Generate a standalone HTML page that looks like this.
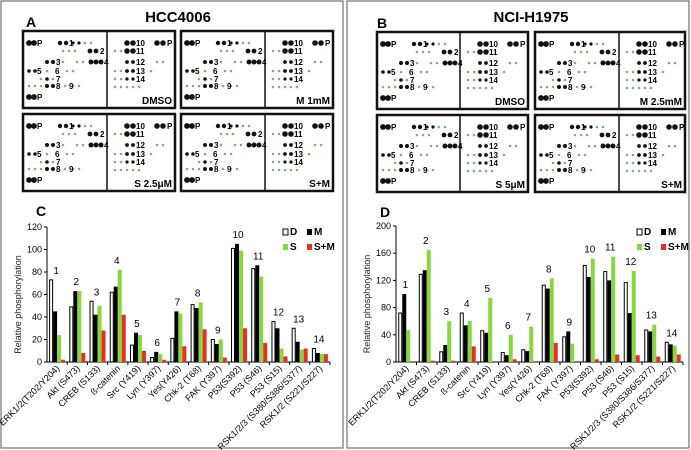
<!DOCTYPE html>
<html><head><meta charset="utf-8"><style>
html,body{margin:0;padding:0;background:#fff}
svg{display:block;font-family:"Liberation Sans",Arial,sans-serif}
</style></head><body>
<svg id="fig" width="691" height="450" viewBox="0 0 691 450">
<rect x="1" y="1" width="342" height="447" fill="none" stroke="#555" stroke-width="1"/>
<rect x="347" y="1" width="342" height="447" fill="none" stroke="#555" stroke-width="1"/>
<text x="178" y="22" font-size="15" font-weight="bold" text-anchor="middle">HCC4006</text>
<text x="26" y="27" font-size="14" font-weight="bold">A</text>
<text x="531" y="22" font-size="15" font-weight="bold" text-anchor="middle">NCI-H1975</text>
<text x="377" y="28" font-size="14" font-weight="bold">B</text>
<text x="36" y="216" font-size="14" font-weight="bold">C</text>
<text x="380" y="217" font-size="14" font-weight="bold">D</text>
<g id="blots"></g>
<g id="chartC"></g>
<g id="chartD"></g>
</svg>
<script>
const NS="http://www.w3.org/2000/svg";
function mk(tag,attrs,parent,txt){const e=document.createElementNS(NS,tag);for(const k in attrs)e.setAttribute(k,attrs[k]);if(txt!==undefined)e.textContent=txt;parent.appendChild(e);return e;}

// ---------- blot arrays ----------
const blotBoxes=[[23,31,107,175,"DMSO"],[181,31,265,333,"M 1mM"],[23,114,107,175,"S 2.5μM"],[181,114,265,333,"S+M"],
[377,32,460,528,"DMSO"],[535,32,619,685,"M 2.5mM"],[377,115,460,528,"S 5μM"],[535,115,619,685,"S+M"]];
const blotG=document.getElementById('blots');
const leftDots=[[6,12,2.9],[11,12,2.9],[37,12,2.2],[43,12,2.2],[50,12,1.6],[56,12,1.6],[62,12,1.3],[68,12,1.3],
[67,20,2.4],[73,20,2.4],[40,20,1.3],[46,20,1.3],[52,20,1.3],
[24,31,2],[30,31,2],[40,31,1.3],[54,31,1.3],[60,31,1.3],[68,31,2.5],[73,31,2.5],[78,31,2.5],
[6,40,1.8],[12,40,1.8],[24,40,1.3],[44,40,1.3],[50,40,1.3],
[24,48,1.8],[30,48,1.3],[18,48,1.3],
[24,55,2],[30,55,2],[18,55,1.3],[42,55,1.3],[50,55,1.3],[56,55,1.3],[6,55,1.3],[12,55,1.3],
[6,66,2.9],[11,66,2.9]];
const leftLabels=[["P",14,15],["1",46,15],["2",77,23],["3",33,34],["4",81,34],["5",14,43],["6",32,43],["7",33,51],["8",33,58],["9",46,58],["P",14,69]];
const rightDots=[[20,12,2.8],[26,12,2.8],[50,12,2.8],[56,12,2.8],[20,20,2.8],[26,20,2.8],[8,20,1.3],[14,20,1.3],
[20,31,1.9],[26,31,1.9],[50,31,1.3],[56,31,1.3],[8,40,1.3],[14,40,1.3],[20,40,1.9],[26,40,1.9],[44,40,1.3],
[8,48,1.3],[14,48,1.3],[20,48,1.6],[26,48,1.6],[8,56,1.3],[14,56,1.3],[20,56,1.3],[26,56,1.3],[32,56,1.3]];
const rightLabels=[["10",29,15],["11",29,23],["12",29,34],["13",29,43],["14",29,51],["P",60,15]];
blotBoxes.forEach((b,i)=>{
  const [x0,y0,xd,x1,cond]=b;
  const g=mk('g',{},blotG);
  
  
  mk('rect',{x:x0,y:y0,width:x1-x0,height:77,fill:'#fff',stroke:'#111','stroke-width':2.5},g);
  mk('line',{x1:xd,y1:y0,x2:xd,y2:y0+77,stroke:'#111','stroke-width':1.5},g);
  leftDots.forEach(d=>mk('circle',{cx:x0+d[0],cy:y0+d[1],r:d[2],fill:d[2]>1.5?'#111':'#8a8'},g));
  leftLabels.forEach(l=>mk('text',{x:x0+l[1],y:y0+l[2],'font-size':8,'font-weight':'bold'},g,l[0]));
  rightDots.forEach(d=>mk('circle',{cx:xd+d[0],cy:y0+d[1],r:d[2],fill:d[2]>1.5?'#111':'#8a8'},g));
  rightLabels.forEach(l=>mk('text',{x:xd+l[1],y:y0+l[2],'font-size':8,'font-weight':'bold'},g,l[0]));
  const t=mk('text',{x:x1-3,y:y0+73,'font-size':10,'font-weight':'bold','text-anchor':'end'},g,cond);
  
  
});

// ---------- chart data ----------
const categories=["ERK1/2(T202/Y204)","Akt (S473)","CREB (S133)","ß-catenin","Src (Y419)","Lyn (Y397)","Yes(Y426)","Chk-2 (T68)","FAK (Y397)","P53(S392)","P53 (S46)","P53 (S15)","RSK1/2/3 (S380/S386/S377)","RSK1/2 (S221/S227)"];
const seriesNames=["D","M","S","S+M"];
const cD=[73,49,54,62,15,4,21,51,20,101,83,36,30,12];
const cM=[45,63,42,67,26,9,45,48,16,105,86,30,18,8];
const cS=[24,63,50,82,24,7,43,53,20,99,76,12,11,7];
const cSM=[2,8,28,42,10,2,14,29,4,30,17,5,12,7];
const cTicks=[0,20,40,60,80,100,120];
const dD=[72,129,15,72,46,14,18,113,37,142,133,117,47,29];
const dM=[100,135,25,54,43,10,16,108,45,125,120,72,45,26];
const dS=[47,165,60,60,94,40,52,123,27,152,155,134,55,24];
const dSM=[0,2,2,23,0,4,0,28,0,4,11,10,8,11];
const dTicks=[0,40,80,120,160,200];

const fills=["#fff","#000","#86d840","#e8301e"];
function drawChart(gid,x0,x1,y0,y1,ymax,ticks,series,prefix,legX){
  const g=document.getElementById(gid);
  const ys=v=>y0-(v/ymax)*(y0-y1);
  const slot=(x1-x0)/categories.length;
  const xs=i=>x0+i*slot;
  mk('line',{x1:x0,y1:y1,x2:x0,y2:y0,stroke:'#000'},g);
  mk('line',{x1:x0,y1:y0,x2:x1,y2:y0,stroke:'#000'},g);
  ticks.forEach(t=>{
    mk('line',{x1:x0-3,y1:ys(t),x2:x0,y2:ys(t),stroke:'#000'},g);
    const tl=mk('text',{x:x0-5,y:ys(t)+3,'font-size':9,'text-anchor':'end'},g,t);
    
    
  });
  const yl=mk('text',{transform:`translate(${x0-26},${(y0+y1)/2+10}) rotate(-90)`,'font-size':9,'text-anchor':'middle',fill:'#222'},g,"Relative phosphorylation");
  
  
  categories.forEach((c,i)=>{
    mk('line',{x1:xs(i+1),y1:y0,x2:xs(i+1),y2:y0+3,stroke:'#000'},g);
    const bw=4, start=xs(i)+(slot-4*bw)/2;
    let mx=0;
    series.forEach((s,k)=>{
      const v=s[i]; mx=Math.max(mx,v);
      const r=mk('rect',{x:start+k*bw+(k==0?0.5:0),y:ys(v),width:k==0?bw-1:bw,height:Math.max(0,y0-ys(v)),fill:fills[k],stroke:k==0?'#000':'none','stroke-width':1},g);
      
      
    });
    const nl=mk('text',{x:xs(i)+slot/2-1,y:ys(mx)-6,'font-size':10,'text-anchor':'middle'},g,i+1);
    
    
    const cl=mk('text',{transform:`translate(${xs(i)+slot/2+3},${y0+7}) rotate(-45)`,'font-size':9,'text-anchor':'end'},g,c);
    
    
  });
  const lp=[[legX,235],[legX+24,235],[legX,250],[legX+24,250]];
  seriesNames.forEach((n,k)=>{
    const lg=mk('g',{},g);
    
    
    mk('rect',{x:lp[k][0],y:lp[k][1]-6,width:5,height:6,fill:fills[k],stroke:k==0?'#000':'none'},lg);
    mk('text',{x:lp[k][0]+7,y:lp[k][1],'font-size':10,'font-weight':'bold'},lg,n);
  });
}
drawChart('chartC',47,330,362,227,120,cTicks,[cD,cM,cS,cSM],'c',283);
drawChart('chartD',396,683,362,226,200,dTicks,[dD,dM,dS,dSM],'d',637);
</script>
</body></html>
